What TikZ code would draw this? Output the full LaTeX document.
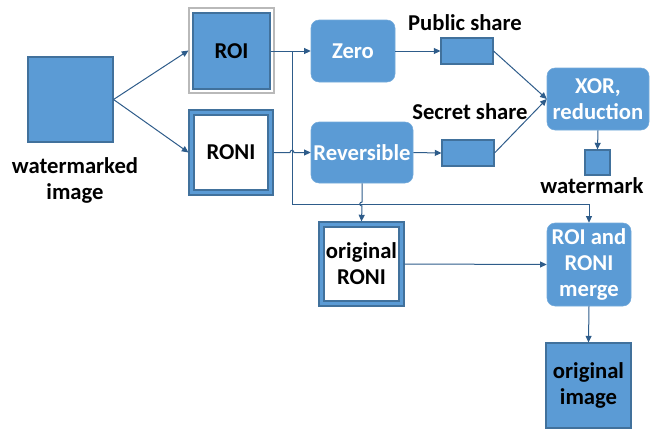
\documentclass[tikz,border=0pt]{standalone}
\usepackage{fontspec}
\setmainfont{Carlito}
\usetikzlibrary{arrows.meta}
\definecolor{fillb}{HTML}{5B9BD5}
\definecolor{edgeb}{HTML}{41719C}
\definecolor{lineb}{HTML}{2E5C8A}
\tikzset{
  txt/.style={font=\fontsize{17}{19.5}\selectfont\bfseries, align=center, inner sep=0pt},
  box/.style={draw=edgeb, line width=0.8pt, fill=fillb, inner sep=0pt, txt},
  rbox/.style={fill=fillb, draw=fillb!85!white, rounded corners=6pt, inner sep=0pt, txt, text=white},
  conn/.style={draw=lineb, line width=0.75pt},
  arr/.style={conn, -{Triangle[length=5pt,width=4.5pt]}},
}
\begin{document}
\begin{tikzpicture}[x=0.75pt,y=-0.75pt]
\useasboundingbox (0,0) rectangle (658,429);
% watermarked image
\node[box, minimum width=63.75pt, minimum height=63.75pt] (wm) at (70.5,99.5) {};
\node[txt] (wmlab) at (75,180) {watermarked\\image};
% ROI
\node[draw=gray!55, line width=0.8pt, fill=white, minimum width=63.75pt, minimum height=63.75pt, inner sep=0pt] (roiF) at (231.5,50.5) {};
\node[box, minimum width=57.75pt, minimum height=57pt] (roi) at (231.5,51) {ROI};
% RONI
\node[box, minimum width=63pt, minimum height=63.75pt] (roniF) at (231,152.5) {};
\node[draw=edgeb, line width=0.8pt, fill=white, minimum width=55.5pt, minimum height=56.25pt, inner sep=0pt, txt] (roni) at (231,152.5) {RONI};
% Zero / Reversible
\node[rbox, minimum width=63pt, minimum height=46.5pt] (zero) at (353,51) {Zero};
\node[rbox, minimum width=76.5pt, minimum height=45.75pt] (rev) at (362,152.5) {Reversible};
% shares
\node[box, minimum width=39pt, minimum height=19.5pt] (pub) at (467,51) {};
\node[txt] (publab) at (465,23) {Public share};
\node[box, minimum width=39pt, minimum height=19.5pt] (sec) at (468,153) {};
\node[txt] (seclab) at (470,112) {Secret share};
% XOR
\node[rbox, minimum width=76.5pt, minimum height=46.5pt] (xor) at (598,99) {XOR,\\reduction};
\node[box, minimum width=18.75pt, minimum height=18.75pt] (wmk) at (597.5,162.5) {};
\node[txt] (wmklab) at (592,186) {watermark};
% original RONI
\node[box, minimum width=63.75pt, minimum height=63pt] (oroniF) at (361.5,264) {};
\node[draw=edgeb, line width=0.8pt, fill=white, minimum width=56.25pt, minimum height=55.5pt, inner sep=0pt, txt] (oroni) at (361.5,264) {original\\RONI};
% merge
\node[rbox, minimum width=63pt, minimum height=62.25pt] (merge) at (589,264.5) {ROI and\\RONI\\merge};
% original image
\node[box, minimum width=63.75pt, minimum height=63.75pt] (oimg) at (588.5,385.5) {original\\image};
% connectors
\draw[arr] (wm.east) -- (roiF.west);
\draw[arr] (wm.east) -- (roniF.west);
\draw[arr] (roi.east) -- (zero.west);
\coordinate (b1) at (292,51);
\coordinate (b2) at (292,204);
\coordinate (b3) at (589,204);
\draw[conn] (b1) -- (b2) -- (b3);
\draw[arr] (b3) -- (merge.north);
\draw[arr] (roniF.east) -- (290,152.5) .. controls (290.3,149.5) and (293.7,149.5) .. (294,152.5) -- (rev.west);
\draw[arr] (rev.south) -- (362,202) .. controls (359,202.3) and (359,205.7) .. (362,206) -- (oroniF.north);
\draw[arr] (zero.east) -- (pub.west);
\draw[arr] (rev.east) -- (sec.west);
\draw[arr] (pub.east) -- (xor.west);
\draw[arr] (sec.east) -- (xor.west);
\draw[arr] (xor.south) -- (wmk.north);
\draw[arr] (oroniF.east) -- (merge.west);
\draw[arr] (merge.south) -- (oimg.north);
\end{tikzpicture}
\end{document}
